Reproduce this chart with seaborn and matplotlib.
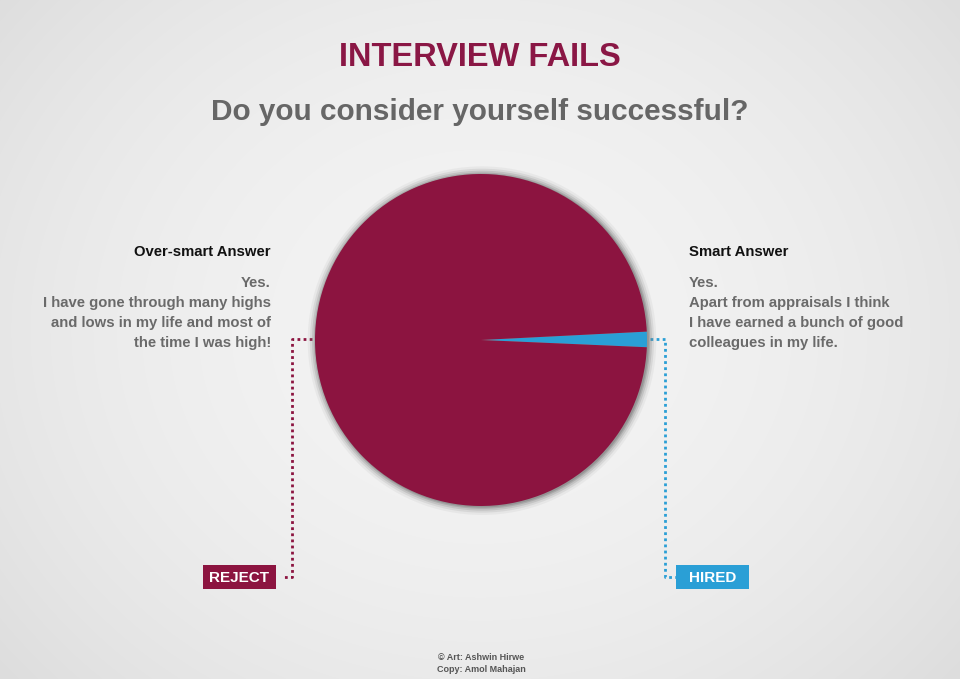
import matplotlib
matplotlib.use("Agg")
import matplotlib.pyplot as plt
import numpy as np
import seaborn as sns

sns.set_style("white")
plt.rcParams['font.family'] = ['Liberation Sans', 'DejaVu Sans']

# Chart data
answers = ["Smart Answer", "Over-smart Answer"]
outcomes = ["HIRED", "REJECT"]
shares = [1.5, 98.5]
colors = ["#2a9fd6", "#8c1440"]

title = "INTERVIEW FAILS"
question = "Do you consider yourself successful?"
left_text = ["Yes.", "I have gone through many highs",
             "and lows in my life and most of", "the time I was high!"]
right_text = ["Yes.", "Apart from appraisals I think",
              "I have earned a bunch of good", "colleagues in my life."]
credits = ["\u00a9 Art: Ashwin Hirwe", "Copy: Amol Mahajan"]

W, H = 960, 679
fig = plt.figure(figsize=(W / 100, H / 100), dpi=100)

# background with soft radial gradient
bg = fig.add_axes([0, 0, 1, 1])
yy, xx = np.mgrid[0:H, 0:W]
dist = np.sqrt(((xx - 480) / 560.0) ** 2 + ((yy - 330) / 480.0) ** 2)
shade = 0.955 - 0.07 * np.clip(dist, 0, 1.2) ** 2
bg.imshow(np.dstack([shade] * 3), extent=[0, W, H, 0], aspect="auto")
bg.set_xlim(0, W)
bg.set_ylim(H, 0)
bg.axis("off")

# pie, centred at (481, 340) px with radius ~166 px
R = 166
lim = 1.12
half = R * lim
ax = fig.add_axes([(481 - half) / W, (H - 340 - half) / H, 2 * half / W, 2 * half / H])
for r, a in [(1.05, 0.08), (1.036, 0.14), (1.024, 0.22), (1.013, 0.32), (1.005, 0.45)]:
    ax.add_patch(plt.Circle((0.006, -0.004), r, color="#7a7a7a", alpha=a, lw=0))
ax.pie(shares, colors=colors, startangle=-2.5, counterclock=True,
       wedgeprops={"linewidth": 0})
ax.set_xlim(-lim, lim)
ax.set_ylim(-lim, lim)
ax.set_aspect("equal")
ax.axis("off")

# titles
bg.text(480, 57, title, ha="center", va="center", fontsize=23.5,
        fontweight="bold", color="#8a1745")
bg.text(480, 112, question, ha="center", va="center", fontsize=21.4,
        fontweight="bold", color="#666666")

# answer blocks
fs = 10.7
bg.text(271, 252, answers[1], ha="right", va="center", fontsize=fs,
        fontweight="bold", color="#111111")
bg.text(689, 252, answers[0], ha="left", va="center", fontsize=fs,
        fontweight="bold", color="#111111")
for i, (lt, rt) in enumerate(zip(left_text, right_text)):
    y = 283 + 20 * i
    bg.text(271, y, lt, ha="right", va="center", fontsize=fs,
            fontweight="bold", color="#6a6a6a")
    bg.text(689, y, rt, ha="left", va="center", fontsize=fs,
            fontweight="bold", color="#6a6a6a")

# dotted connectors
bg.plot([312, 292, 292, 282], [339, 339, 577, 577], ls=(0, (1, 1.2)),
        lw=2, color=colors[1])
bg.plot([650, 665, 665, 676], [339, 339, 577, 577], ls=(0, (1, 1.2)),
        lw=2, color=colors[0])

# outcome boxes
bg.add_patch(plt.Rectangle((203, 565), 73, 24, color=colors[1], lw=0))
bg.add_patch(plt.Rectangle((676, 565), 73, 24, color=colors[0], lw=0))
bg.text(239.5, 577.5, outcomes[1], ha="center", va="center", fontsize=11,
        fontweight="bold", color="white")
bg.text(712.5, 577.5, outcomes[0], ha="center", va="center", fontsize=11,
        fontweight="bold", color="white")

# credits
bg.text(481, 658, credits[0], ha="center", va="center", fontsize=6.5,
        fontweight="bold", color="#555555")
bg.text(481, 669, credits[1], ha="center", va="center", fontsize=6.5,
        fontweight="bold", color="#555555")

fig.savefig("out.png", dpi=100)
